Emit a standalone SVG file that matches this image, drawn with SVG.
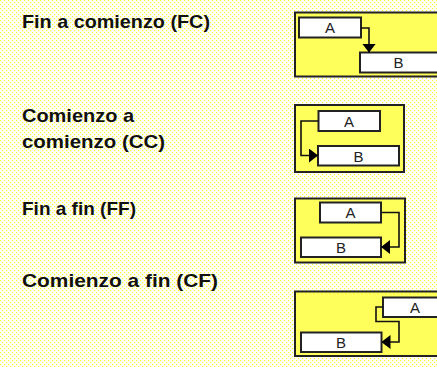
<svg xmlns="http://www.w3.org/2000/svg" width="437" height="367" viewBox="0 0 437 367">
<defs>
<pattern id="dots" width="4" height="4" patternUnits="userSpaceOnUse">
<rect width="4" height="4" fill="#ffffff"/>
<rect x="0" y="0" width="1.2" height="1.2" fill="#ffff33"/>
<rect x="2" y="2" width="1.2" height="1.2" fill="#ffff33"/>
</pattern>
<marker id="arr" viewBox="0 0 9 14" refX="9" refY="7" markerWidth="9" markerHeight="14" markerUnits="userSpaceOnUse" orient="auto">
<path d="M0,0 L9,7 L0,14 z" fill="#000"/>
</marker>
</defs>
<style>
.lbl{font-family:"Liberation Sans",Arial,sans-serif;font-weight:bold;font-size:19px;fill:#111}
.panel{fill:#ffff5c;stroke:#222;stroke-width:2}
.box{fill:#ffffff;stroke:#222;stroke-width:2}
.bt{font-family:"Liberation Sans",Arial,sans-serif;font-size:15px;fill:#222;text-anchor:middle}
.con{fill:none;stroke:#111;stroke-width:1.6;marker-end:url(#arr)}
</style>
<rect width="437" height="367" fill="url(#dots)"/>

<g id="labels">
<text class="lbl" x="22" y="28" textLength="188" lengthAdjust="spacingAndGlyphs">Fin a comienzo (FC)</text>
<text class="lbl" x="22" y="122" textLength="112" lengthAdjust="spacingAndGlyphs">Comienzo a</text>
<text class="lbl" x="22" y="148" textLength="143" lengthAdjust="spacingAndGlyphs">comienzo (CC)</text>
<text class="lbl" x="22" y="215" textLength="114" lengthAdjust="spacingAndGlyphs">Fin a fin (FF)</text>
<text class="lbl" x="22" y="287" textLength="196" lengthAdjust="spacingAndGlyphs">Comienzo a fin (CF)</text>
</g>

<g id="fc">
<rect class="panel" x="295" y="12.5" width="150" height="64"/>
<g id="fc-a"><rect class="box" x="299" y="17.5" width="62" height="20"/><text class="bt" x="330" y="33">A</text></g>
<g id="fc-b"><rect class="box" x="360" y="52.5" width="80" height="20"/><text class="bt" x="398.5" y="68">B</text></g>
</g>

<g id="cc">
<rect class="panel" x="295" y="105" width="109" height="67"/>
<g id="cc-a"><rect class="box" x="318.5" y="111" width="61.5" height="20"/><text class="bt" x="349" y="126.5">A</text></g>
<g id="cc-b"><rect class="box" x="318" y="146" width="81" height="19.5"/><text class="bt" x="358.5" y="161.5">B</text></g>
</g>

<g id="ff">
<rect class="panel" x="295" y="198.5" width="110" height="64"/>
<g id="ff-a"><rect class="box" x="320" y="202.5" width="61" height="20"/><text class="bt" x="350.5" y="218">A</text></g>
<g id="ff-b"><rect class="box" x="301" y="237.5" width="80" height="19.5"/><text class="bt" x="341" y="253">B</text></g>
</g>

<g id="cf">
<rect class="panel" x="295" y="291.5" width="150" height="64.5"/>
<g id="cf-a"><rect class="box" x="383" y="297.5" width="64" height="19.5"/><text class="bt" x="415" y="313">A</text></g>
<g id="cf-b"><rect class="box" x="301" y="332.5" width="80.5" height="19.5"/><text class="bt" x="341" y="348">B</text></g>
</g>

<g id="connectors">
<path class="con" d="M361,28 H369 V52.5"/>
<path class="con" d="M318.5,121 H301 V155.5 H318"/>
<path class="con" d="M381,212.5 H399 V247 H381"/>
<path class="con" d="M383,307 H376 V321.5 H399 V342 H381.5"/>
</g>
</svg>
